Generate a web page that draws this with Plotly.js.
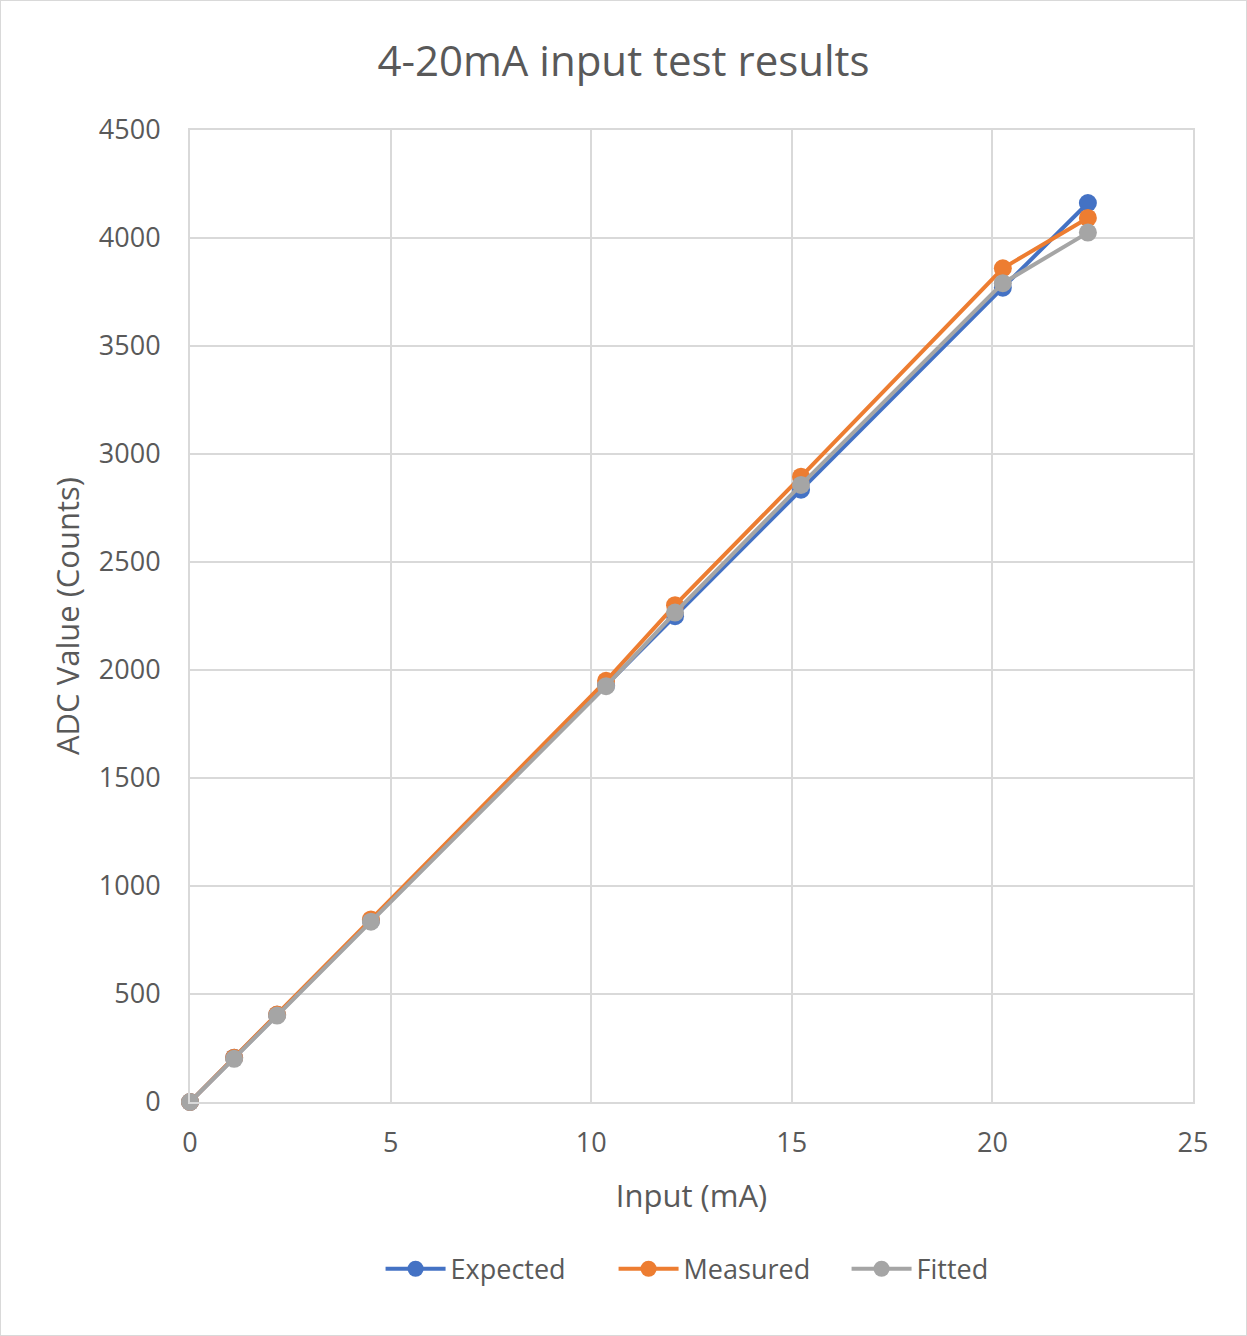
<!DOCTYPE html>
<html>
<head>
<meta charset="utf-8">
<script src="https://cdn.plot.ly/plotly-3.0.1.min.js"></script>
<style>
  html, body { margin: 0; padding: 0; background: #fff; }
  #chart { width: 1245px; height: 1334px; border: 1px solid #d9d9d9; }
</style>
</head>
<body>
<div id="chart"></div>
<script>
const inputMA = [0, 1.1, 2.17, 4.51, 10.37, 12.09, 15.23, 20.26, 22.38];
const expected = [0, 205, 404, 839, 1929, 2249, 2835, 3770, 4162];
const measured = [0, 205, 405, 845, 1950, 2300, 2895, 3860, 4093];
const fitted = [0, 200, 400, 835, 1925, 2266, 2857, 3791, 4025];

const seriesNames = ['Expected', 'Measured', 'Fitted'];
const seriesColors = ['#4472C4', '#ED7D31', '#A5A5A5'];
const seriesData = [expected, measured, fitted];

const traces = seriesData.map((ys, i) => ({
  x: inputMA,
  y: ys,
  name: seriesNames[i],
  type: 'scatter',
  mode: 'lines+markers',
  cliponaxis: false,
  line: { color: seriesColors[i], width: 4 },
  marker: { color: seriesColors[i], size: 18 }
}));

const gridColor = '#d9d9d9';
const textColor = '#595959';
const fontFam = 'Open Sans, sans-serif';

const layout = {
  width: 1245,
  height: 1334,
  margin: { l: 189, r: 53, t: 129, b: 233 },
  paper_bgcolor: '#fff',
  plot_bgcolor: '#fff',
  font: { family: fontFam, color: textColor, size: 27 },
  title: {
    text: '4-20mA input test results',
    font: { family: fontFam, size: 42, color: textColor },
    x: 0.5, xanchor: 'center', y: 0.955, yanchor: 'middle'
  },
  xaxis: {
    range: [0, 25],
    dtick: 5,
    tick0: 0,
    showgrid: true,
    gridcolor: gridColor,
    gridwidth: 2,
    zeroline: false,
    showline: true,
    linecolor: gridColor,
    linewidth: 2,
    mirror: true,
    ticks: '',
    ticklabelstandoff: 16,
    tickfont: { size: 27, color: textColor },
    title: { text: 'Input (mA)', font: { size: 31, color: textColor }, standoff: 26 }
  },
  yaxis: {
    range: [0, 4500],
    dtick: 500,
    tick0: 0,
    showgrid: true,
    gridcolor: gridColor,
    gridwidth: 2,
    zeroline: false,
    showline: true,
    linecolor: gridColor,
    linewidth: 2,
    mirror: true,
    ticks: '',
    ticklabelstandoff: 22,
    tickfont: { size: 27, color: textColor },
    title: { text: 'ADC Value (Counts)', font: { size: 31, color: textColor }, standoff: 10 }
  },
  showlegend: true,
  legend: {
    orientation: 'h',
    x: 0.19, xanchor: 'left',
    y: -0.172, yanchor: 'middle',
    font: { size: 27, color: textColor },
    entrywidth: 158,
    entrywidthmode: 'pixels',
    itemwidth: 60
  },
  hovermode: false
};

Plotly.newPlot('chart', traces, layout, { displayModeBar: false, staticPlot: true });
</script>
</body>
</html>
